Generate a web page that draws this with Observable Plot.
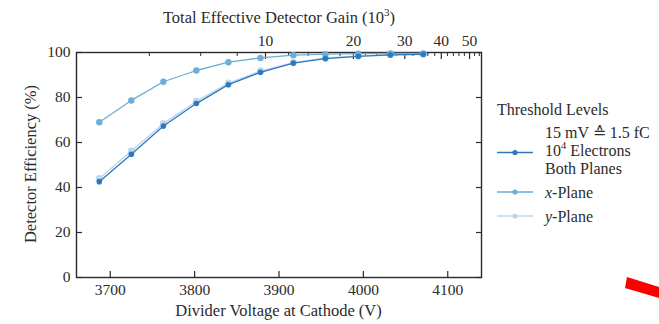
<!DOCTYPE html>
<html>
<head>
<meta charset="utf-8">
<script src="https://cdn.jsdelivr.net/npm/d3@7"></script>
<script src="https://cdn.jsdelivr.net/npm/@observablehq/plot@0.6"></script>
<style>
  body { margin: 0; background: #fff; }
  #chart { position: relative; width: 659px; height: 324px; }
</style>
</head>
<body>
<div id="chart"></div>
<script>
// Divider voltage at the cathode (V) for each measurement
const voltages = [3687, 3725, 3763, 3802, 3840, 3878, 3917, 3955, 3994, 4032, 4071];

// Detector efficiency (%) per threshold condition
const bothPlanes = [42.6, 54.8, 67.3, 77.3, 85.7, 91.2, 95.3, 97.3, 98.3, 98.9, 99.2];
const xPlane     = [69.0, 78.7, 87.0, 92.0, 95.7, 97.6, 98.8, 99.3, 99.5, 99.6, 99.6];
const yPlane     = [44.0, 56.2, 68.4, 78.3, 86.4, 91.8, 95.5, 97.6, 98.5, 99.0, 99.2];

// Series names and colours
const seriesNames = ["both", "x", "y"];
const seriesColors = ["#2e78bd", "#6baed6", "#bdd7ec"];

// Axis ticks
const voltTicks = [3700, 3800, 3900, 4000, 4100];
const effTicks = [0, 20, 40, 60, 80, 100];

// Top axis: total effective gain (10^3), log-related to the divider voltage
const gainMajor = [10, 20, 30, 40, 50];
const gainMinor = [4, 6, 8, 12, 14, 16, 18, 22, 24, 26, 28, 32, 34, 36, 38, 42, 44, 46, 48, 52, 54];
const gainRefVoltage = 3884;   // voltage at a gain of 10 x 10^3
const voltsPerDecade = 346;    // voltage increase per tenfold gain
const gainToVoltage = g => gainRefVoltage + voltsPerDecade * Math.log10(g / 10);

const rowsOf = (name, values) => voltages.map((v, i) => ({series: name, voltage: v, eff: values[i]}));
const rowsBoth = rowsOf("both", bothPlanes);
const rowsX = rowsOf("x", xPlane);
const rowsY = rowsOf("y", yPlane);

const serif = "'Liberation Serif', 'DejaVu Serif', serif";
const ink = "#2b2b2b";

const plot = Plot.plot({
  width: 659,
  height: 324,
  marginLeft: 76,
  marginRight: 178,
  marginTop: 52,
  marginBottom: 47,
  style: {fontFamily: serif, fontSize: "15.5px", color: ink, background: "white"},
  x: {domain: [3660, 4140]},
  y: {domain: [0, 100]},
  color: {domain: seriesNames, range: seriesColors},
  marks: [
    // bottom voltage axis (inward ticks)
    Plot.axisX({anchor: "bottom", ticks: voltTicks, tickSize: -6, tickPadding: 12, tickFormat: d => String(d), label: null, strokeWidth: 1.2}),
    // top gain axis: labelled major ticks and unlabelled minor ticks
    Plot.axisX({anchor: "top", ticks: gainMajor.map(gainToVoltage), tickSize: -6, tickPadding: 13,
      tickFormat: v => String(Math.round(10 * Math.pow(10, (v - gainRefVoltage) / voltsPerDecade))), label: null, strokeWidth: 1.2}),
    Plot.axisX({anchor: "top", ticks: gainMinor.map(gainToVoltage), tickSize: -3, fill: "none", label: null, strokeWidth: 1}),
    // efficiency axis on the left, mirrored ticks on the right
    Plot.axisY({anchor: "left", ticks: effTicks, tickSize: -6, tickPadding: 12, label: null, strokeWidth: 1.2}),
    Plot.axisY({anchor: "right", ticks: effTicks, tickSize: -6, fill: "none", label: null, strokeWidth: 1.2}),
    Plot.frame({stroke: ink, strokeWidth: 1.4}),
    // y-plane
    Plot.line(rowsY, {x: "voltage", y: "eff", stroke: "series", strokeWidth: 1.4}),
    Plot.dot(rowsY, {x: "voltage", y: "eff", fill: "series", r: 3.6}),
    // x-plane
    Plot.line(rowsX, {x: "voltage", y: "eff", stroke: "series", strokeWidth: 1.3}),
    Plot.dot(rowsX, {x: "voltage", y: "eff", fill: "series", r: 3.2}),
    // both planes
    Plot.line(rowsBoth, {x: "voltage", y: "eff", stroke: "series", strokeWidth: 1.3}),
    Plot.dot(rowsBoth, {x: "voltage", y: "eff", fill: "series", r: 2.8})
  ]
});

document.getElementById("chart").appendChild(plot);

// Axis titles, legend and corner marker drawn into the same SVG
const svg = d3.select(plot);
const labels = svg.append("g").attr("font-family", serif).attr("font-size", 16.5).attr("fill", ink);

const gainTitle = labels.append("text").attr("x", 279).attr("y", 23).attr("text-anchor", "middle");
gainTitle.append("tspan").text("Total Effective Detector Gain (10");
gainTitle.append("tspan").attr("font-size", 11).attr("dy", -7).text("3");
gainTitle.append("tspan").attr("dy", 7).text(")");

labels.append("text").attr("x", 278.5).attr("y", 316).attr("text-anchor", "middle")
  .text("Divider Voltage at Cathode (V)");

labels.append("text").attr("transform", "translate(36,164) rotate(-90)").attr("text-anchor", "middle")
  .text("Detector Efficiency (%)");

// Legend
const legend = svg.append("g").attr("font-family", serif).attr("font-size", 16).attr("fill", ink)
  .attr("text-anchor", "start");
legend.append("text").attr("x", 497).attr("y", 115).text("Threshold Levels");

const entries = [
  {color: seriesColors[0], r: 2.6, y: 152.5, lines: [["15 mV ≙ 1.5 fC"], ["10", "4", " Electrons"], ["Both Planes"]], first: 138.3},
  {color: seriesColors[1], r: 2.6, y: 192, lines: [[["x", true], "-Plane"]], first: 198},
  {color: seriesColors[2], r: 2.6, y: 216, lines: [[["y", true], "-Plane"]], first: 221.5}
];
entries.forEach(e => {
  legend.append("line").attr("x1", 497).attr("x2", 533).attr("y1", e.y).attr("y2", e.y)
    .attr("stroke", e.color).attr("stroke-width", 1.3);
  legend.append("circle").attr("cx", 515).attr("cy", e.y).attr("r", e.r).attr("fill", e.color);
  e.lines.forEach((parts, i) => {
    const t = legend.append("text").attr("x", 545).attr("y", e.first + i * 17.6);
    if (parts.length === 3 && parts[1] === "4") {
      t.append("tspan").text(parts[0]);
      t.append("tspan").attr("font-size", 10.5).attr("dy", -7).text(parts[1]);
      t.append("tspan").attr("dy", 7).text(parts[2]);
    } else {
      parts.forEach(p => {
        if (Array.isArray(p)) t.append("tspan").attr("font-style", "italic").text(p[0]);
        else t.append("tspan").text(p);
      });
    }
  });
});

// Red corner marker
svg.append("polygon").attr("points", "627,277 659,287 659,298 625,288").attr("fill", "#ff0000");
</script>
</body>
</html>
